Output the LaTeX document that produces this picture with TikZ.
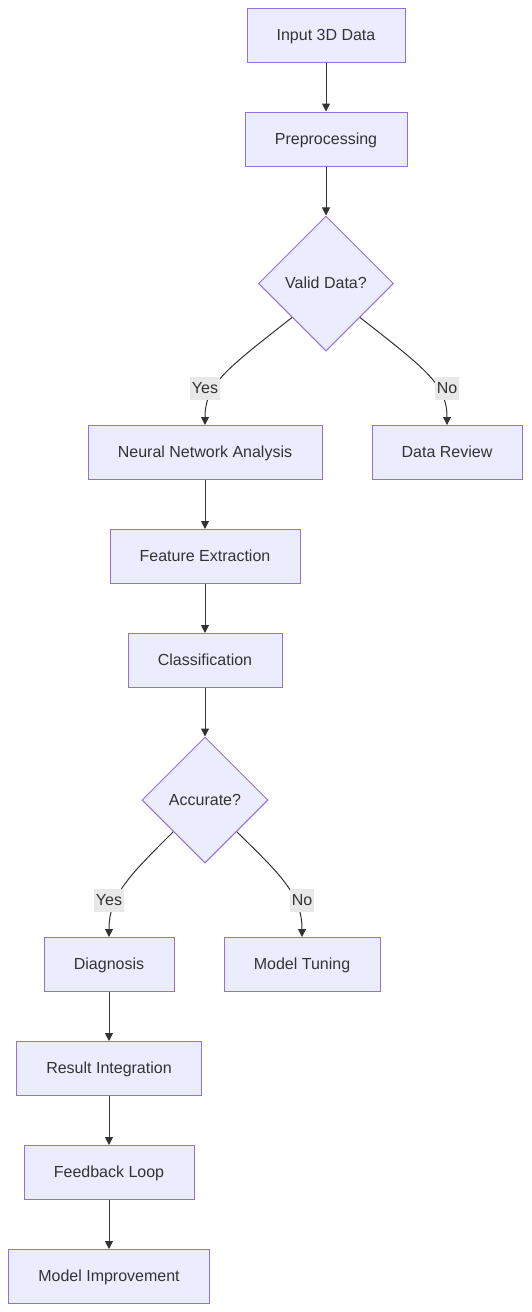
\documentclass[tikz,border=0pt]{standalone}
\usepackage{fontspec}
\setmainfont{Liberation Sans}
\usetikzlibrary{shapes.geometric,arrows.meta}
\definecolor{nodefill}{HTML}{ECECFF}
\definecolor{nodeline}{HTML}{9370DB}
\definecolor{ink}{HTML}{333333}
\definecolor{lblbg}{HTML}{E8E8E8}
\begin{document}
\begin{tikzpicture}[x=1pt,y=-1pt,
  every node/.style={font=\fontsize{16pt}{19pt}\selectfont, text=ink, text height=12pt, text depth=2pt},
  box/.style={draw=nodeline, fill=nodefill, line width=1pt, minimum height=54pt, inner sep=0pt},
  decision/.style={diamond, aspect=1, draw=nodeline, fill=nodefill, line width=1pt, inner sep=0pt},
  edge/.style={draw=ink, line width=1pt, -{Triangle[length=8pt,width=8pt]}},
  lbl/.style={fill=lblbg, inner sep=1.5pt, minimum height=23pt}]
\useasboundingbox (0,0) rectangle (531,1312);
\node[box, minimum width=158pt] (input) at (326,35) {Input 3D Data};
\node[box, minimum width=162pt] (pre) at (326,139) {Preprocessing};
\node[decision, minimum size=135pt] (valid) at (326,283.5) {Valid Data?};
\node[box, minimum width=234pt] (nna) at (205,452.5) {Neural Network Analysis};
\node[box, minimum width=150pt] (review) at (447,452.5) {Data Review};
\node[box, minimum width=190pt] (feat) at (205,556.5) {Feature Extraction};
\node[box, minimum width=154pt] (cls) at (205,660.5) {Classification};
\node[decision, minimum size=126pt] (acc) at (205,800) {Accurate?};
\node[box, minimum width=130pt] (diag) at (109,964.5) {Diagnosis};
\node[box, minimum width=156pt] (tune) at (302,964.5) {Model Tuning};
\node[box, minimum width=185pt] (res) at (109,1068.5) {Result Integration};
\node[box, minimum width=170pt] (fb) at (109,1172.5) {Feedback Loop};
\node[box, minimum width=201pt] (imp) at (109,1276.5) {Model Improvement};

\draw[edge] (input) -- (pre);
\draw[edge] (pre) -- (valid);
\draw[edge] (valid.south west) .. controls (225,370) and (205,385) .. (nna.north);
\draw[edge] (valid.south east) .. controls (427,370) and (447,385) .. (review.north);
\draw[edge] (nna) -- (feat);
\draw[edge] (feat) -- (cls);
\draw[edge] (cls) -- (acc);
\draw[edge] (acc.south west) .. controls (130,875) and (109,895) .. (diag.north);
\draw[edge] (acc.south east) .. controls (281,875) and (302,895) .. (tune.north);
\draw[edge] (diag) -- (res);
\draw[edge] (res) -- (fb);
\draw[edge] (fb) -- (imp);

\node[lbl] (yes1) at (205,388) {Yes};
\node[lbl] (no1) at (447,388) {No};
\node[lbl] (yes2) at (109,900) {Yes};
\node[lbl] (no2) at (302,900) {No};
\end{tikzpicture}
\end{document}
